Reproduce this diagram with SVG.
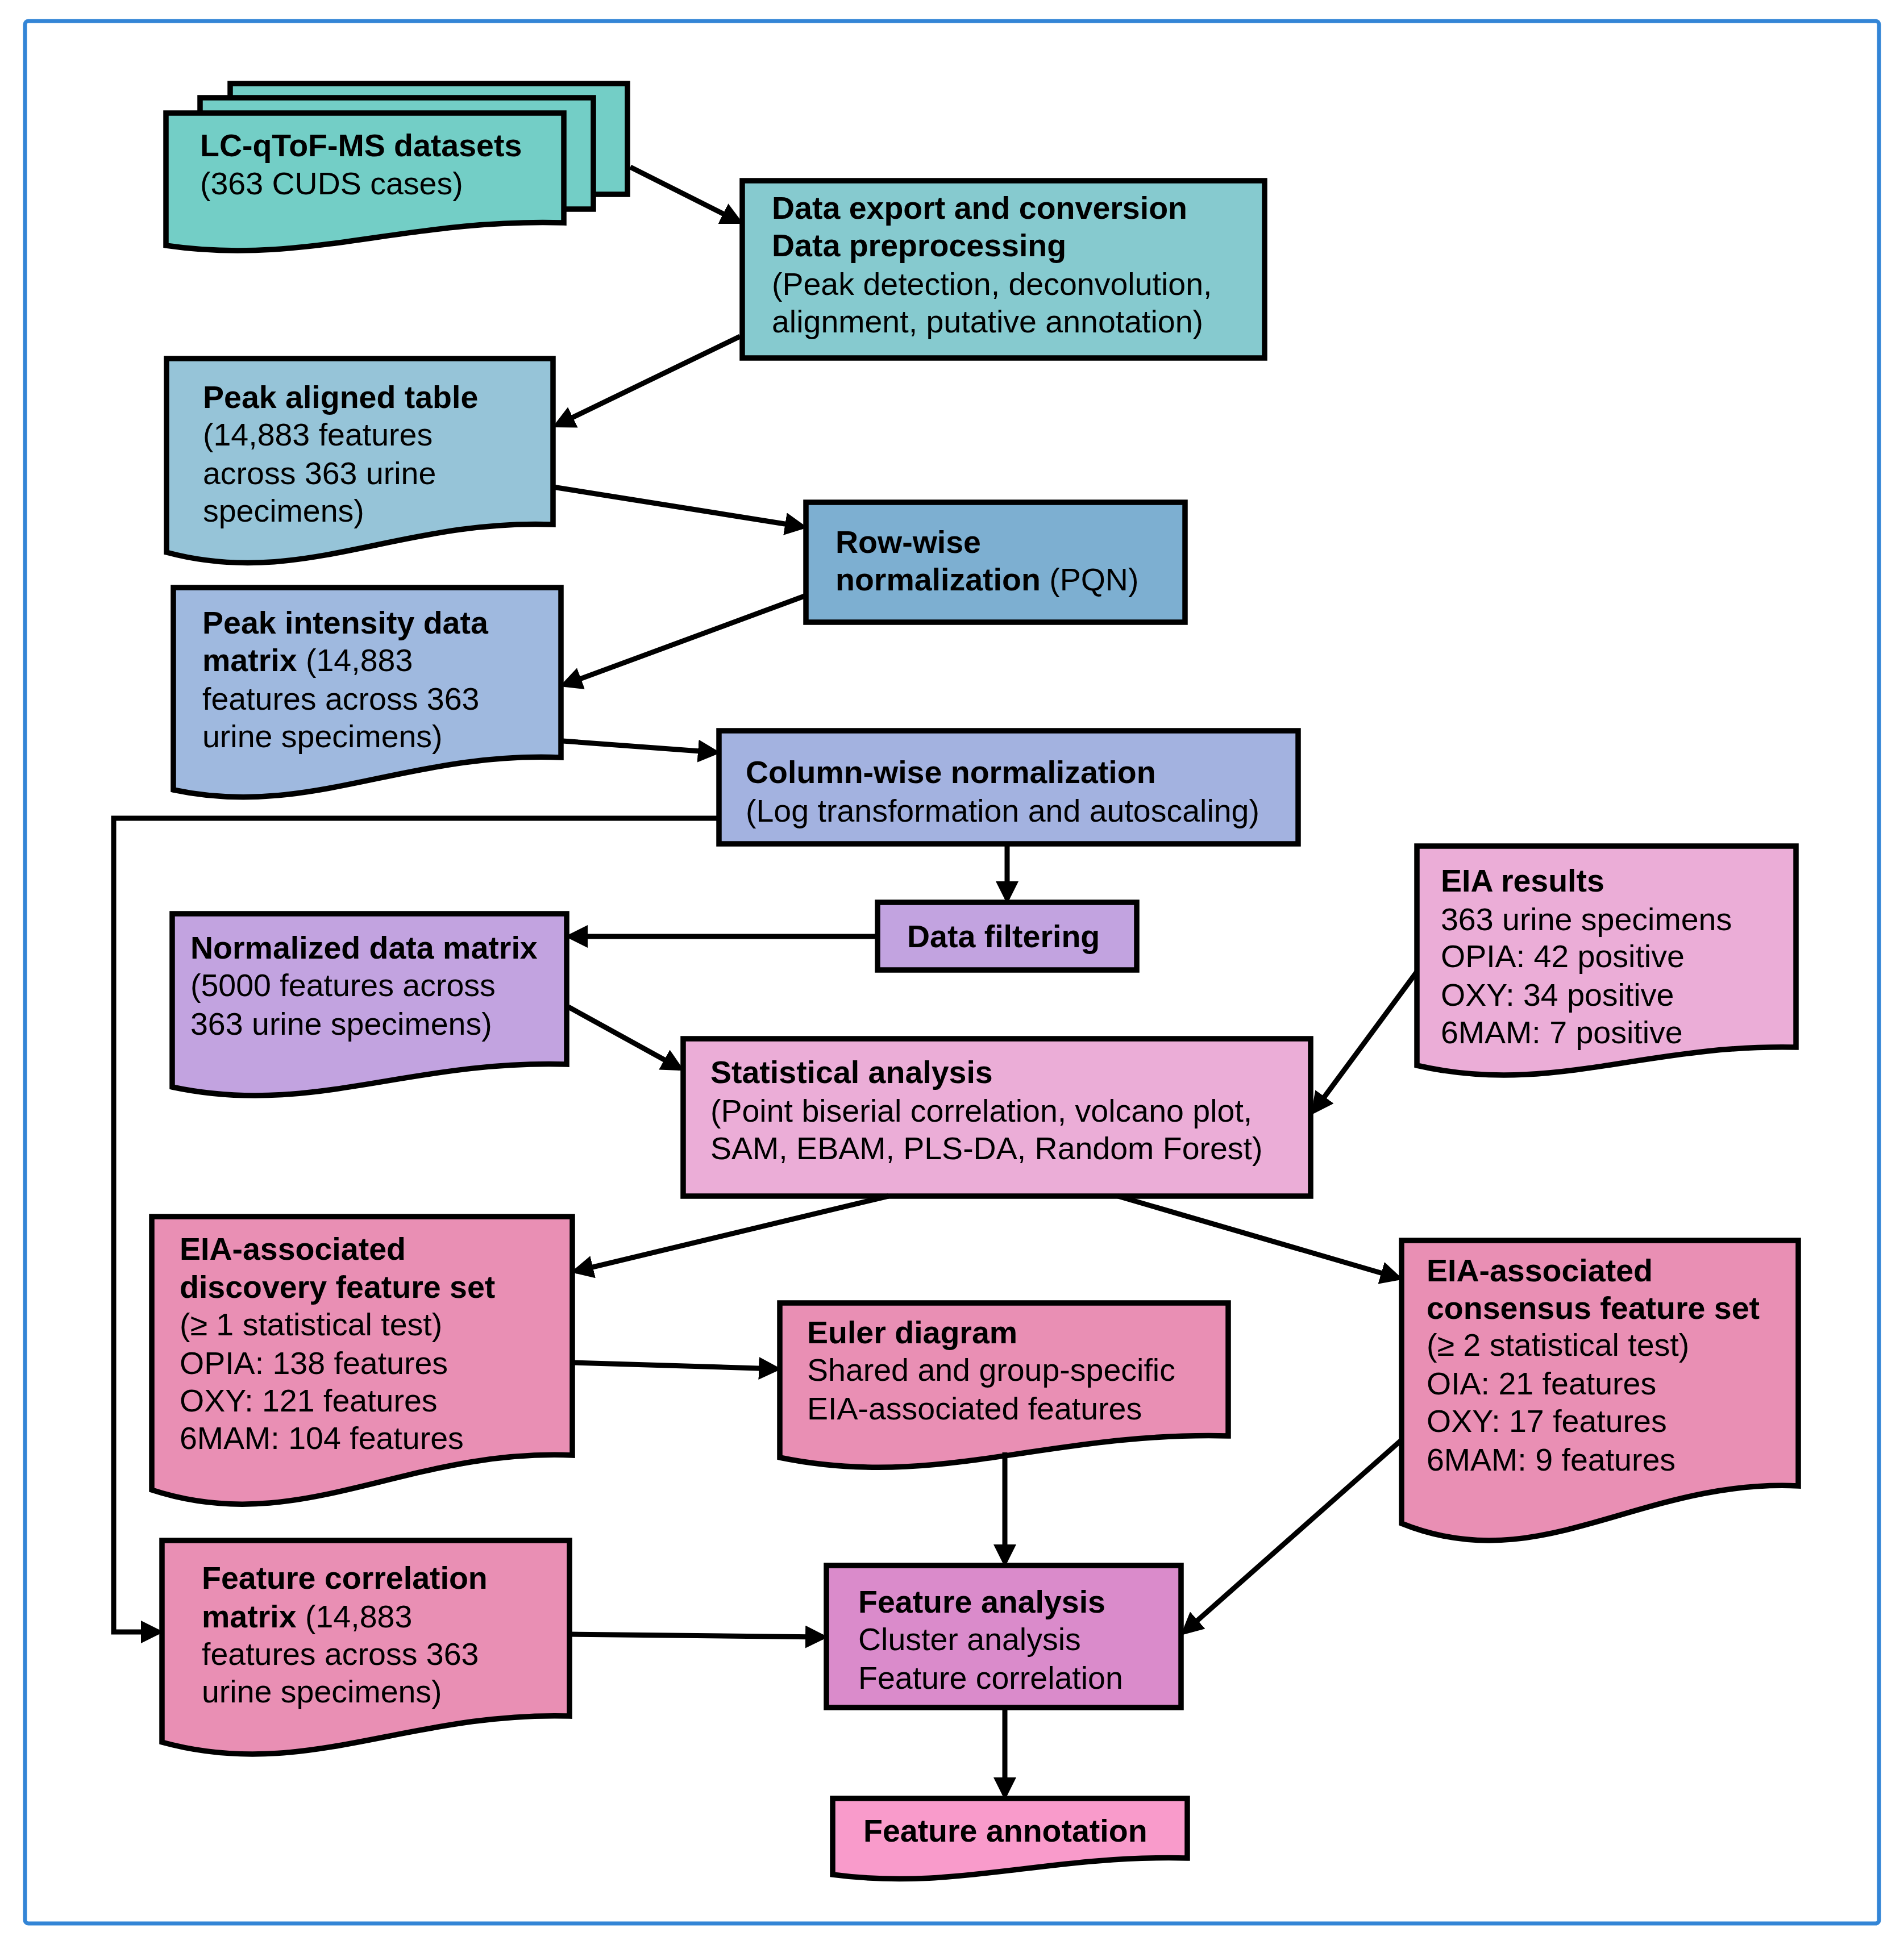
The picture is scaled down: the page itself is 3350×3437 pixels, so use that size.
<svg xmlns="http://www.w3.org/2000/svg" width="3350" height="3437" viewBox="0 0 3350 3437">
<style>
.n{stroke:#000;stroke-width:9.5;stroke-linejoin:miter}
text{font-family:"Liberation Sans",Arial,sans-serif;font-size:55.5px;fill:#000}
.b{font-weight:bold}
.c{fill:none;stroke:#000;stroke-width:9;marker-end:url(#ah)}
</style>
<defs>
<marker id="ah" markerUnits="userSpaceOnUse" markerWidth="40" markerHeight="40" viewBox="0 0 40 40" refX="31" refY="20" orient="auto">
<path d="M0,0 L40,20 L0,40 Z" fill="#000"/>
</marker>
</defs>
<rect width="3350" height="3437" fill="#fff"/>
<rect x="44" y="37" width="3262" height="3348" rx="6" fill="none" stroke="#3385d6" stroke-width="7"/>

<g id="lcms">
<rect class="n" x="405" y="147" width="699" height="195" fill="#73cec6"/>
<rect class="n" x="352" y="172" width="692" height="196" fill="#73cec6"/>
<path class="n" d="M292,199 H992 V392 C712,384 537,468 292,432 Z" fill="#73cec6"/>
<text x="352" y="275" class="b">LC-qToF-MS datasets</text>
<text x="352" y="342">(363 CUDS cases)</text>
</g>

<g id="export">
<rect class="n" x="1306" y="318" width="919" height="312" fill="#86cacf"/>
<text x="1358" y="385" class="b">Data export and conversion</text>
<text x="1358" y="451" class="b">Data preprocessing</text>
<text x="1358" y="519">(Peak detection, deconvolution,</text>
<text x="1358" y="585">alignment, putative annotation)</text>
</g>

<g id="peakaligned">
<path class="n" d="M293,631 H973 V923 C701,913 531,1036 293,972 Z" fill="#96c4d8"/>
<text x="357" y="718" class="b">Peak aligned table</text>
<text x="357" y="784">(14,883 features</text>
<text x="357" y="852">across 363 urine</text>
<text x="357" y="918">specimens)</text>
</g>

<g id="rowwise">
<rect class="n" x="1418" y="884" width="667" height="211" fill="#7dafd1"/>
<text x="1470" y="973" class="b">Row-wise</text>
<text x="1470" y="1039"><tspan class="b">normalization</tspan> (PQN)</text>
</g>

<g id="peakintensity">
<path class="n" d="M305,1034 H987 V1333 C714,1322 544,1441 305,1390 Z" fill="#9fb9df"/>
<text x="356" y="1115" class="b">Peak intensity data</text>
<text x="356" y="1181"><tspan class="b">matrix</tspan> (14,883</text>
<text x="356" y="1249">features across 363</text>
<text x="356" y="1315">urine specimens)</text>
</g>

<g id="columnwise">
<rect class="n" x="1265" y="1286" width="1019" height="199" fill="#a3b2e0"/>
<text x="1312" y="1378" class="b">Column-wise normalization</text>
<text x="1312" y="1446">(Log transformation and autoscaling)</text>
</g>

<g id="filtering">
<rect class="n" x="1544" y="1588" width="456" height="119" fill="#c2a3e0"/>
<text x="1596" y="1667" class="b">Data filtering</text>
</g>

<g id="normalized">
<path class="n" d="M303,1608 H997 V1873 C719,1865 546,1965 303,1913 Z" fill="#c2a3e0"/>
<text x="335" y="1687" class="b">Normalized data matrix</text>
<text x="335" y="1753">(5000 features across</text>
<text x="335" y="1821">363 urine specimens)</text>
</g>

<g id="eia">
<path class="n" d="M2493,1489 H3160 V1843 C2893,1837 2726,1929 2493,1875 Z" fill="#ebadd7"/>
<text x="2535" y="1569" class="b">EIA results</text>
<text x="2535" y="1637">363 urine specimens</text>
<text x="2535" y="1702">OPIA: 42 positive</text>
<text x="2535" y="1770">OXY: 34 positive</text>
<text x="2535" y="1836">6MAM: 7 positive</text>
</g>

<g id="statistical">
<rect class="n" x="1202" y="1828" width="1104" height="277" fill="#ebadd7"/>
<text x="1250" y="1906" class="b">Statistical analysis</text>
<text x="1250" y="1974">(Point biserial correlation, volcano plot,</text>
<text x="1250" y="2040">SAM, EBAM, PLS-DA, Random Forest)</text>
</g>

<g id="discovery">
<path class="n" d="M267,2141 H1007 V2561 C711,2549 526,2707 267,2622 Z" fill="#e98fb4"/>
<text x="316" y="2217" class="b">EIA-associated</text>
<text x="316" y="2284" class="b">discovery feature set</text>
<text x="316" y="2350">(≥ 1 statistical test)</text>
<text x="316" y="2418">OPIA: 138 features</text>
<text x="316" y="2484">OXY: 121 features</text>
<text x="316" y="2550">6MAM: 104 features</text>
</g>

<g id="euler">
<path class="n" d="M1372,2293 H2161 V2527 C1845,2519 1648,2622 1372,2565 Z" fill="#e98fb4"/>
<text x="1420" y="2364" class="b">Euler diagram</text>
<text x="1420" y="2430">Shared and group-specific</text>
<text x="1420" y="2498">EIA-associated features</text>
</g>

<g id="consensus">
<path class="n" d="M2466,2183 H3164 V2615 C2885,2602 2710,2780 2466,2681 Z" fill="#e98fb4"/>
<text x="2510" y="2255" class="b">EIA-associated</text>
<text x="2510" y="2321" class="b">consensus feature set</text>
<text x="2510" y="2386">(≥ 2 statistical test)</text>
<text x="2510" y="2454">OIA: 21 features</text>
<text x="2510" y="2520">OXY: 17 features</text>
<text x="2510" y="2588">6MAM: 9 features</text>
</g>

<g id="correlation">
<path class="n" d="M285,2711 H1002 V3020 C715,3012 536,3135 285,3066 Z" fill="#e98fb4"/>
<text x="355" y="2796" class="b">Feature correlation</text>
<text x="355" y="2864"><tspan class="b">matrix</tspan> (14,883</text>
<text x="355" y="2930">features across 363</text>
<text x="355" y="2996">urine specimens)</text>
</g>

<g id="analysis">
<rect class="n" x="1454" y="2755" width="624" height="250" fill="#da8bcb"/>
<text x="1510" y="2838" class="b">Feature analysis</text>
<text x="1510" y="2904">Cluster analysis</text>
<text x="1510" y="2972">Feature correlation</text>
</g>

<g id="annotation">
<path class="n" d="M1465,3165 H2089 V3270 C1839,3264 1683,3328 1465,3299 Z" fill="#f99bcb"/>
<text x="1519" y="3241" class="b">Feature annotation</text>
</g>

<g id="connectors">
<line class="c" x1="1109" y1="294" x2="1300" y2="390"/>
<line class="c" x1="1302" y1="592" x2="980" y2="748"/>
<line class="c" x1="973" y1="857" x2="1412" y2="927"/>
<line class="c" x1="1418" y1="1048" x2="993" y2="1205"/>
<line class="c" x1="990" y1="1304" x2="1259" y2="1324"/>
<line class="c" x1="1772" y1="1485" x2="1772" y2="1582"/>
<line class="c" x1="1544" y1="1648" x2="1003" y2="1648"/>
<line class="c" x1="1000" y1="1772" x2="1196" y2="1880"/>
<line class="c" x1="2493" y1="1710" x2="2312" y2="1955"/>
<line class="c" x1="1563" y1="2105" x2="1013" y2="2237"/>
<line class="c" x1="1967" y1="2105" x2="2460" y2="2249"/>
<line class="c" x1="1007" y1="2398" x2="1366" y2="2409"/>
<line class="c" x1="1768" y1="2556" x2="1768" y2="2749"/>
<line class="c" x1="1002" y1="2876" x2="1448" y2="2881"/>
<line class="c" x1="2466" y1="2534" x2="2084" y2="2872"/>
<line class="c" x1="1768" y1="3005" x2="1768" y2="3159"/>
<polyline class="c" points="1265,1440 200,1440 200,2872 279,2872"/>
</g>
</svg>
